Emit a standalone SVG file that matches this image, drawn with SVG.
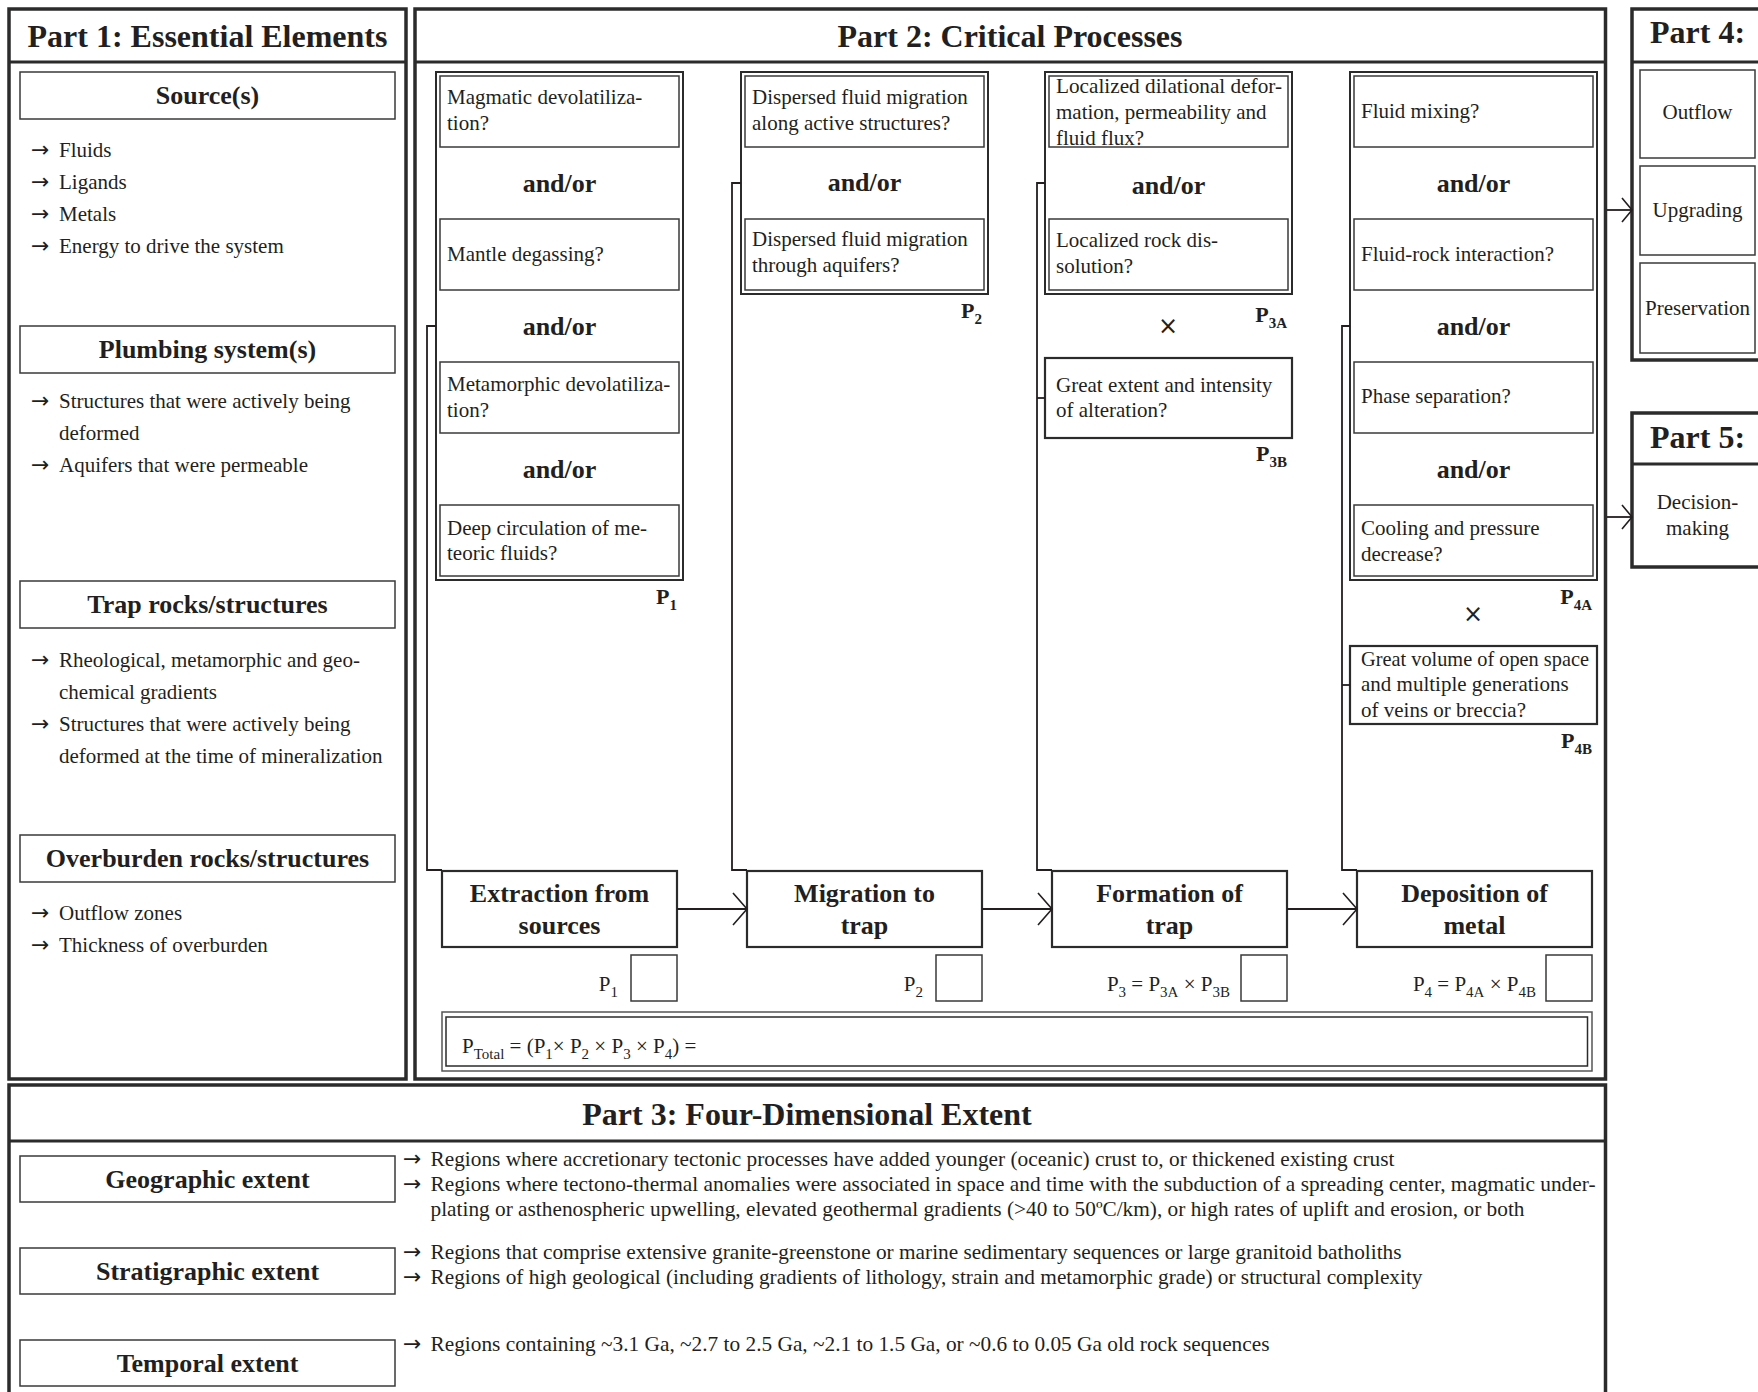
<svg xmlns="http://www.w3.org/2000/svg" width="1758" height="1392" viewBox="0 0 1758 1392">
<style>
text { font-family: "Liberation Serif", "Times New Roman", "DejaVu Serif", serif; fill: #231f20; }
.t { font-size: 21px; }
.h { font-size: 32px; font-weight: bold; }
.b { font-size: 26px; font-weight: bold; }
.c { text-anchor: middle; }
.e { text-anchor: end; }
.x { font-family: "DejaVu Sans", "Liberation Sans", sans-serif; font-size: 24px; }
.ar { font-family: "DejaVu Sans", "Liberation Sans", sans-serif; font-size: 22px; }
.part { fill: #fff; stroke: #2b2b2b; stroke-width: 3.5; }
.hl { stroke: #2b2b2b; stroke-width: 3; }
.box { fill: #fff; stroke: #3a3a3a; stroke-width: 1.5; }
.col { fill: none; stroke: #2b2b2b; stroke-width: 2; }
.pbox { fill: #fff; stroke: #2b2b2b; stroke-width: 2.2; }
.con { fill: none; stroke: #231f20; stroke-width: 1.8; }
.lab { font-size: 22px; font-weight: bold; }
.sub { font-size: 15px; }
</style>
<defs>
<marker id="chev" viewBox="0 0 14 32" refX="14" refY="16" markerWidth="14" markerHeight="32" markerUnits="userSpaceOnUse" orient="auto" overflow="visible">
<path d="M0,0 L14,16 L0,32" fill="none" stroke="#231f20" stroke-width="1.6"/>
</marker>
<marker id="chev2" viewBox="0 0 10 24" refX="10" refY="12" markerWidth="10" markerHeight="24" markerUnits="userSpaceOnUse" orient="auto" overflow="visible">
<path d="M0,0 L10,12 L0,24" fill="none" stroke="#231f20" stroke-width="1.6"/>
</marker>
</defs>
<rect x="0" y="0" width="1758" height="1392" fill="#fff"/>

<!-- Part 1 -->
<g id="part1">
<rect class="part" x="9" y="9" width="397" height="1070"/>
<line class="hl" x1="9" y1="62" x2="406" y2="62"/>
<text class="h c" x="207.5" y="47">Part 1: Essential Elements</text>
</g>
<g id="sources">
<rect class="box" x="20" y="72" width="375" height="47"/>
<text class="b c" x="207.5" y="104">Source(s)</text>
<text class="t" y="157"><tspan class="ar" x="31">→</tspan><tspan x="59">Fluids</tspan></text>
<text class="t" y="189"><tspan class="ar" x="31">→</tspan><tspan x="59">Ligands</tspan></text>
<text class="t" y="221"><tspan class="ar" x="31">→</tspan><tspan x="59">Metals</tspan></text>
<text class="t" y="253"><tspan class="ar" x="31">→</tspan><tspan x="59">Energy to drive the system</tspan></text>
</g>
<g id="plumbing">
<rect class="box" x="20" y="326" width="375" height="47"/>
<text class="b c" x="207.5" y="358">Plumbing system(s)</text>
<text class="t" y="408"><tspan class="ar" x="31">→</tspan><tspan x="59">Structures that were actively being</tspan></text>
<text class="t" x="59" y="440">deformed</text>
<text class="t" y="472"><tspan class="ar" x="31">→</tspan><tspan x="59">Aquifers that were permeable</tspan></text>
</g>
<g id="trap">
<rect class="box" x="20" y="581" width="375" height="47"/>
<text class="b c" x="207.5" y="613">Trap rocks/structures</text>
<text class="t" y="667"><tspan class="ar" x="31">→</tspan><tspan x="59">Rheological, metamorphic and geo-</tspan></text>
<text class="t" x="59" y="699">chemical gradients</text>
<text class="t" y="731"><tspan class="ar" x="31">→</tspan><tspan x="59">Structures that were actively being</tspan></text>
<text class="t" x="59" y="763">deformed at the time of mineralization</text>
</g>
<g id="overburden">
<rect class="box" x="20" y="835" width="375" height="47"/>
<text class="b c" x="207.5" y="867">Overburden rocks/structures</text>
<text class="t" y="920"><tspan class="ar" x="31">→</tspan><tspan x="59">Outflow zones</tspan></text>
<text class="t" y="952"><tspan class="ar" x="31">→</tspan><tspan x="59">Thickness of overburden</tspan></text>
</g>

<!-- Part 2 -->
<g id="part2">
<rect class="part" x="415" y="9" width="1190.5" height="1070"/>
<line class="hl" x1="415" y1="62" x2="1605.5" y2="62"/>
<text class="h c" x="1010" y="47">Part 2: Critical Processes</text>
</g>

<g id="p1-column">
<rect class="col" x="436" y="72" width="247" height="508"/>
<rect class="box" x="440" y="76" width="239" height="71"/>
<text class="t" x="447" y="104">Magmatic devolatiliza-</text>
<text class="t" x="447" y="130">tion?</text>
<text class="b c" x="559.5" y="192">and/or</text>
<rect class="box" x="440" y="219" width="239" height="71"/>
<text class="t" x="447" y="261">Mantle degassing?</text>
<text class="b c" x="559.5" y="335">and/or</text>
<rect class="box" x="440" y="362" width="239" height="71"/>
<text class="t" x="447" y="391">Metamorphic devolatiliza-</text>
<text class="t" x="447" y="417">tion?</text>
<text class="b c" x="559.5" y="478">and/or</text>
<rect class="box" x="440" y="505" width="239" height="71"/>
<text class="t" x="447" y="535">Deep circulation of me-</text>
<text class="t" x="447" y="560">teoric fluids?</text>
<text class="lab e" x="677" y="604">P<tspan class="sub" dy="6">1</tspan></text>
</g>

<g id="p2-column">
<rect class="col" x="741" y="72" width="247" height="222"/>
<rect class="box" x="745" y="76" width="239" height="71"/>
<text class="t" x="752" y="104">Dispersed fluid migration</text>
<text class="t" x="752" y="130">along active structures?</text>
<text class="b c" x="864.5" y="191">and/or</text>
<rect class="box" x="745" y="219" width="239" height="71"/>
<text class="t" x="752" y="246">Dispersed fluid migration</text>
<text class="t" x="752" y="272">through aquifers?</text>
<text class="lab e" x="982" y="318">P<tspan class="sub" dy="6">2</tspan></text>
</g>

<g id="p3-column">
<rect class="col" x="1045" y="72" width="247" height="222"/>
<rect class="box" x="1049" y="76" width="239" height="71"/>
<text class="t" x="1056" y="93" textLength="226" lengthAdjust="spacingAndGlyphs">Localized dilational defor-</text>
<text class="t" x="1056" y="119">mation, permeability and</text>
<text class="t" x="1056" y="145">fluid flux?</text>
<text class="b c" x="1168.5" y="194">and/or</text>
<rect class="box" x="1049" y="219" width="239" height="71"/>
<text class="t" x="1056" y="247">Localized rock dis-</text>
<text class="t" x="1056" y="273">solution?</text>
<text class="lab e" x="1287" y="322">P<tspan class="sub" dy="6">3A</tspan></text>
<text class="x c" x="1168" y="334">×</text>
</g>
<g id="p3b">
<rect class="pbox" x="1045" y="358" width="247" height="80"/>
<text class="t" x="1056" y="392">Great extent and intensity</text>
<text class="t" x="1056" y="417">of alteration?</text>
<text class="lab e" x="1287" y="461">P<tspan class="sub" dy="6">3B</tspan></text>
</g>

<g id="p4-column">
<rect class="col" x="1350" y="72" width="247" height="508"/>
<rect class="box" x="1354" y="76" width="239" height="71"/>
<text class="t" x="1361" y="118">Fluid mixing?</text>
<text class="b c" x="1473.5" y="192">and/or</text>
<rect class="box" x="1354" y="219" width="239" height="71"/>
<text class="t" x="1361" y="261">Fluid-rock interaction?</text>
<text class="b c" x="1473.5" y="335">and/or</text>
<rect class="box" x="1354" y="362" width="239" height="71"/>
<text class="t" x="1361" y="403">Phase separation?</text>
<text class="b c" x="1473.5" y="478">and/or</text>
<rect class="box" x="1354" y="505" width="239" height="71"/>
<text class="t" x="1361" y="535">Cooling and pressure</text>
<text class="t" x="1361" y="561">decrease?</text>
<text class="lab e" x="1592" y="604">P<tspan class="sub" dy="6">4A</tspan></text>
<text class="x c" x="1473" y="622">×</text>
</g>
<g id="p4b">
<rect class="pbox" x="1350" y="646" width="247" height="78"/>
<text class="t" x="1361" y="666" textLength="228" lengthAdjust="spacingAndGlyphs">Great volume of open space</text>
<text class="t" x="1361" y="691">and multiple generations</text>
<text class="t" x="1361" y="717">of veins or breccia?</text>
<text class="lab e" x="1592" y="748">P<tspan class="sub" dy="6">4B</tspan></text>
</g>

<g id="extraction">
<rect class="pbox" x="442" y="871" width="235" height="76"/>
<text class="b c" x="559.5" y="902">Extraction from</text>
<text class="b c" x="559.5" y="934">sources</text>
</g>
<g id="migration">
<rect class="pbox" x="747" y="871" width="235" height="76"/>
<text class="b c" x="864.5" y="902">Migration to</text>
<text class="b c" x="864.5" y="934">trap</text>
</g>
<g id="formation">
<rect class="pbox" x="1052" y="871" width="235" height="76"/>
<text class="b c" x="1169.5" y="902">Formation of</text>
<text class="b c" x="1169.5" y="934">trap</text>
</g>
<g id="deposition">
<rect class="pbox" x="1357" y="871" width="235" height="76"/>
<text class="b c" x="1474.5" y="902">Deposition of</text>
<text class="b c" x="1474.5" y="934">metal</text>
</g>

<g id="p-scores">
<text class="t e" x="618" y="991">P<tspan class="sub" dy="6">1</tspan></text>
<rect class="box" x="631" y="955" width="46" height="46"/>
<text class="t e" x="923" y="991">P<tspan class="sub" dy="6">2</tspan></text>
<rect class="box" x="936" y="955" width="46" height="46"/>
<text class="t e" x="1230" y="991">P<tspan class="sub" dy="6">3</tspan><tspan dy="-6"> = P</tspan><tspan class="sub" dy="6">3A</tspan><tspan dy="-6"> × P</tspan><tspan class="sub" dy="6">3B</tspan></text>
<rect class="box" x="1241" y="955" width="46" height="46"/>
<text class="t e" x="1536" y="991">P<tspan class="sub" dy="6">4</tspan><tspan dy="-6"> = P</tspan><tspan class="sub" dy="6">4A</tspan><tspan dy="-6"> × P</tspan><tspan class="sub" dy="6">4B</tspan></text>
<rect class="box" x="1546" y="955" width="46" height="46"/>
</g>

<g id="p-total">
<rect fill="#fff" stroke="#555" stroke-width="1.5" x="442" y="1012" width="1150" height="59"/>
<rect fill="none" stroke="#2b2b2b" stroke-width="1.5" x="446" y="1017" width="1141.5" height="49"/>
<text class="t" x="462" y="1053">P<tspan class="sub" dy="6">Total</tspan><tspan dy="-6"> = (P</tspan><tspan class="sub" dy="6">1</tspan><tspan dy="-6">× P</tspan><tspan class="sub" dy="6">2</tspan><tspan dy="-6"> × P</tspan><tspan class="sub" dy="6">3</tspan><tspan dy="-6"> × P</tspan><tspan class="sub" dy="6">4</tspan><tspan dy="-6">) =</tspan></text>
</g>

<!-- Part 3 -->
<g id="part3">
<rect class="part" x="9" y="1085" width="1596.5" height="320"/>
<line class="hl" x1="9" y1="1141" x2="1605.5" y2="1141"/>
<text class="h c" x="807" y="1125">Part 3: Four-Dimensional Extent</text>
</g>
<g id="geographic">
<rect class="box" x="20" y="1156" width="375" height="46"/>
<text class="b c" x="207.5" y="1188">Geographic extent</text>
<text class="ar" x="403" y="1166">→</text>
<text class="t" x="430.5" y="1166" textLength="964" lengthAdjust="spacingAndGlyphs">Regions where accretionary tectonic processes have added younger (oceanic) crust to, or thickened existing crust</text>
<text class="ar" x="403" y="1191">→</text>
<text class="t" x="430.5" y="1191" textLength="1165" lengthAdjust="spacingAndGlyphs">Regions where tectono-thermal anomalies were associated in space and time with the subduction of a spreading center, magmatic under-</text>
<text class="t" x="430.5" y="1216" textLength="1094" lengthAdjust="spacingAndGlyphs">plating or asthenospheric upwelling, elevated geothermal gradients (&gt;40 to 50ºC/km), or high rates of uplift and erosion, or both</text>
</g>
<g id="stratigraphic">
<rect class="box" x="20" y="1248" width="375" height="46"/>
<text class="b c" x="207.5" y="1280">Stratigraphic extent</text>
<text class="ar" x="403" y="1259">→</text>
<text class="t" x="430.5" y="1259" textLength="971" lengthAdjust="spacingAndGlyphs">Regions that comprise extensive granite-greenstone or marine sedimentary sequences or large granitoid batholiths</text>
<text class="ar" x="403" y="1284">→</text>
<text class="t" x="430.5" y="1284" textLength="992" lengthAdjust="spacingAndGlyphs">Regions of high geological (including gradients of lithology, strain and metamorphic grade) or structural complexity</text>
</g>
<g id="temporal">
<rect class="box" x="20" y="1340" width="375" height="46"/>
<text class="b c" x="207.5" y="1372">Temporal extent</text>
<text class="ar" x="403" y="1351">→</text>
<text class="t" x="430.5" y="1351" textLength="839" lengthAdjust="spacingAndGlyphs">Regions containing ~3.1 Ga, ~2.7 to 2.5 Ga, ~2.1 to 1.5 Ga, or ~0.6 to 0.05 Ga old rock sequences</text>
</g>

<!-- Part 4 -->
<g id="part4">
<rect class="part" x="1632" y="9" width="130" height="351"/>
<line class="hl" x1="1632" y1="62" x2="1762" y2="62"/>
<text class="h" x="1650" y="43">Part 4:</text>
</g>
<g id="outflow">
<rect class="box" x="1640" y="70" width="115" height="88"/>
<text class="t c" x="1697.5" y="119">Outflow</text>
</g>
<g id="upgrading">
<rect class="box" x="1640" y="166" width="115" height="89"/>
<text class="t c" x="1697.5" y="217">Upgrading</text>
</g>
<g id="preservation">
<rect class="box" x="1640" y="263" width="115" height="90"/>
<text class="t c" x="1697.5" y="315">Preservation</text>
</g>

<!-- Part 5 -->
<g id="part5">
<rect class="part" x="1632" y="413" width="130" height="154"/>
<line class="hl" x1="1632" y1="464" x2="1762" y2="464"/>
<text class="h" x="1650" y="448">Part 5:</text>
<text class="t c" x="1697.5" y="509">Decision-</text>
<text class="t c" x="1697.5" y="535">making</text>
</g>

<!-- Connectors -->
<g id="connectors">
<path class="con" d="M436,326 H427 V870 H442"/>
<path class="con" d="M741,183 H732 V870 H747"/>
<path class="con" d="M1045,183 H1037 V870 H1052"/>
<path class="con" d="M1037,398 H1045"/>
<path class="con" d="M1350,326 H1342 V870 H1357"/>
<path class="con" d="M1342,685 H1350"/>
<path class="con" d="M677,909 H747" marker-end="url(#chev)"/>
<path class="con" d="M982,909 H1052" marker-end="url(#chev)"/>
<path class="con" d="M1287,909 H1357" marker-end="url(#chev)"/>
<path class="con" d="M1607,210 H1632" marker-end="url(#chev2)"/>
<path class="con" d="M1607,517 H1632" marker-end="url(#chev2)"/>
</g>
</svg>
